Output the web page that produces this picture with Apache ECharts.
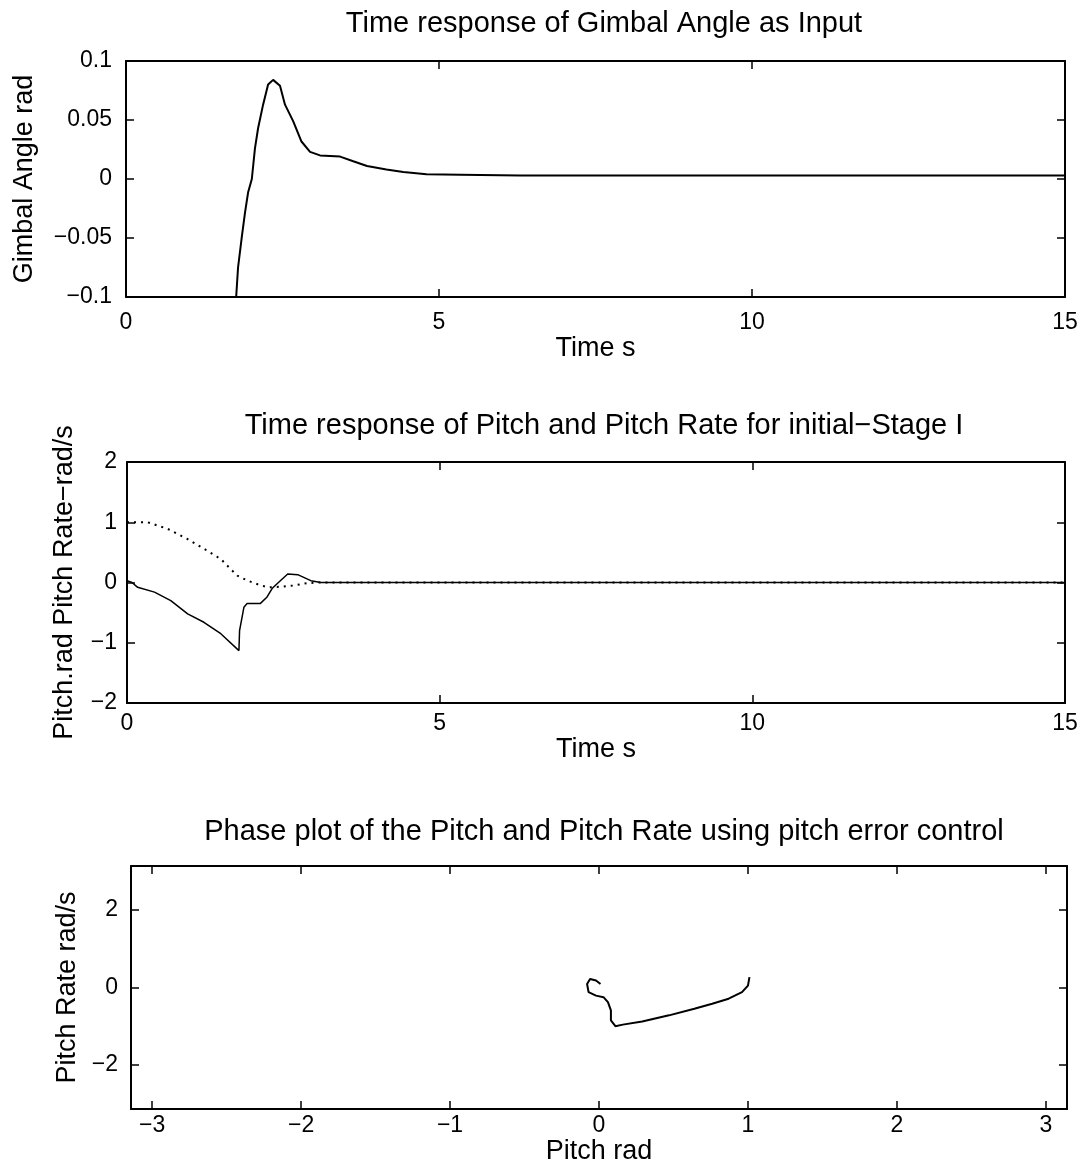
<!DOCTYPE html>
<html>
<head>
<meta charset="utf-8">
<script src="https://cdn.jsdelivr.net/npm/echarts@6/dist/echarts.min.js"></script>
<style>
  html, body { margin: 0; padding: 0; background: #fff; }
  #chart { width: 1087px; height: 1162px; }
</style>
</head>
<body>
<div id="chart"></div>
<script>
var myChart = echarts.init(document.getElementById('chart'));

// top panel: gimbal angle (rad) vs time (s)
var gimbalTime  = [0, 1.76, 1.79, 1.85, 1.90, 1.95, 2.01, 2.06, 2.11, 2.19, 2.27, 2.35, 2.46, 2.54, 2.67, 2.80, 2.94, 3.10, 3.42, 3.63, 3.85, 4.16, 4.43, 4.80, 5.34, 6.3, 15];
var gimbalAngle = [-0.1, -0.1, -0.075, -0.049, -0.029, -0.0115, 0, 0.026, 0.043, 0.063, 0.080, 0.084, 0.079, 0.063, 0.049, 0.032, 0.023, 0.020, 0.019, 0.015, 0.011, 0.008, 0.006, 0.004, 0.0037, 0.003, 0.003];

// middle panel: pitch (dotted) and pitch rate (solid)
var pitchTime  = [0, 0.33, 0.65, 0.97, 1.23, 1.50, 1.66, 1.77, 1.93, 2.09, 2.25, 2.46, 2.67, 2.88, 3.1, 15];
var pitchValue = [1.0, 1.0, 0.89, 0.72, 0.56, 0.39, 0.22, 0.11, 0.03, -0.03, -0.08, -0.07, -0.05, -0.01, 0, 0];
var rateTime  = [0, 0.08, 0.17, 0.44, 0.70, 0.97, 1.23, 1.50, 1.79, 1.80, 1.87, 1.92, 2.13, 2.24, 2.32, 2.40, 2.57, 2.73, 2.94, 3.1, 15];
var rateValue = [0.03, 0, -0.08, -0.16, -0.30, -0.52, -0.66, -0.85, -1.13, -0.8, -0.41, -0.35, -0.35, -0.24, -0.10, -0.02, 0.14, 0.13, 0.03, 0, 0];

// bottom panel: phase plot
var phasePitch = [1.01, 1.0, 0.96, 0.87, 0.76, 0.64, 0.47, 0.29, 0.16, 0.11, 0.08, 0.08, 0.06, 0.03, -0.02, -0.07, -0.08, -0.06, -0.02, 0.01];
var phaseRate  = [0.27, 0.05, -0.12, -0.29, -0.42, -0.55, -0.72, -0.88, -0.96, -1.0, -0.85, -0.59, -0.38, -0.25, -0.21, -0.12, 0.09, 0.22, 0.18, 0.09];

var phaseXTicks = [-3, -2, -1, 0, 1, 2, 3];
var phaseYTicks = [-2, 0, 2];

var titles = [
    'Time response of Gimbal Angle as Input',
    'Time response of Pitch and Pitch Rate for initial\u2212Stage I',
    'Phase plot of the Pitch and Pitch Rate using pitch error control'
];

function pairs(xs, ys) {
    var out = [];
    for (var i = 0; i < xs.length; i++) {
        out.push([xs[i], ys[i]]);
    }
    return out;
}

function fmt(v) {
    return String(+(+v).toFixed(2)).replace('-', '\u2212');
}

var ink = '#000';
var font = 'Liberation Sans, Arial, sans-serif';

// one axis of a box; labelled axes carry the name and tick labels,
// mirror axes only draw the box edge with inward ticks
function axis(grid, pos, min, max, interval, custom, label) {
    var ax = {
        type: 'value', gridIndex: grid, position: pos, min: min, max: max,
        axisLine: {show: true, onZero: false, lineStyle: {color: ink, width: 2}},
        axisTick: {show: true, inside: true, length: 8, lineStyle: {color: ink, width: 1.5}},
        axisLabel: {show: false},
        splitLine: {show: false}
    };
    if (label) {
        ax.name = label.name;
        ax.nameLocation = 'middle';
        ax.nameGap = label.gap;
        ax.nameTextStyle = {color: ink, fontSize: 27, fontFamily: font};
        ax.axisLabel = {show: true, color: ink, fontSize: 23, fontFamily: font, margin: label.margin, formatter: fmt};
    }
    if (custom) {
        ax.axisTick.customValues = custom;
        if (label) ax.axisLabel.customValues = custom;
    } else {
        ax.interval = interval;
    }
    return ax;
}

var titleStyle = {color: ink, fontSize: 29, fontWeight: 'normal', fontFamily: font};

myChart.setOption({
    backgroundColor: '#fff',
    animation: false,
    title: [
        {text: titles[0], left: 599, top: 4, textAlign: 'center', textStyle: titleStyle},
        {text: titles[1], left: 599, top: 406, textAlign: 'center', textStyle: titleStyle},
        {text: titles[2], left: 599, top: 812, textAlign: 'center', textStyle: titleStyle}
    ],
    grid: [
        {left: 126, right: 22, top: 61, height: 236, outerBoundsMode: 'none', containLabel: false},
        {left: 127, right: 22, top: 462, height: 241, outerBoundsMode: 'none', containLabel: false},
        {left: 131, right: 20, top: 866, height: 243, outerBoundsMode: 'none', containLabel: false}
    ],
    xAxis: [
        axis(0, 'bottom', 0, 15, 5, null, {name: 'Time s', gap: 34, margin: 14}),
        axis(0, 'top', 0, 15, 5, null, null),
        axis(1, 'bottom', 0, 15, 5, null, {name: 'Time s', gap: 30, margin: 9}),
        axis(1, 'top', 0, 15, 5, null, null),
        axis(2, 'bottom', -Math.PI, Math.PI, null, phaseXTicks, {name: 'Pitch rad', gap: 25, margin: 5}),
        axis(2, 'top', -Math.PI, Math.PI, null, phaseXTicks, null)
    ],
    yAxis: [
        axis(0, 'left', -0.1, 0.1, 0.05, null, {name: 'Gimbal Angle rad', gap: 88, margin: 14}),
        axis(0, 'right', -0.1, 0.1, 0.05, null, null),
        axis(1, 'left', -2, 2, 1, null, {name: 'Pitch.rad Pitch Rate\u2212rad/s', gap: 49, margin: 10}),
        axis(1, 'right', -2, 2, 1, null, null),
        axis(2, 'left', -Math.PI, Math.PI, null, phaseYTicks, {name: 'Pitch Rate rad/s', gap: 49, margin: 13}),
        axis(2, 'right', -Math.PI, Math.PI, null, phaseYTicks, null)
    ],
    series: [
        {
            name: 'Gimbal Angle', type: 'line', xAxisIndex: 0, yAxisIndex: 0,
            data: pairs(gimbalTime, gimbalAngle), showSymbol: false, clip: true,
            lineStyle: {color: ink, width: 2}
        },
        {
            name: 'Pitch', type: 'line', xAxisIndex: 2, yAxisIndex: 2,
            data: pairs(pitchTime, pitchValue), showSymbol: false, clip: true,
            lineStyle: {color: ink, width: 2, type: [2, 5]}
        },
        {
            name: 'Pitch Rate', type: 'line', xAxisIndex: 2, yAxisIndex: 2,
            data: pairs(rateTime, rateValue), showSymbol: false, clip: true,
            lineStyle: {color: ink, width: 1.5}
        },
        {
            name: 'Phase', type: 'line', xAxisIndex: 4, yAxisIndex: 4,
            data: pairs(phasePitch, phaseRate), showSymbol: false, clip: true,
            lineStyle: {color: ink, width: 2}
        }
    ]
});
</script>
</body>
</html>
